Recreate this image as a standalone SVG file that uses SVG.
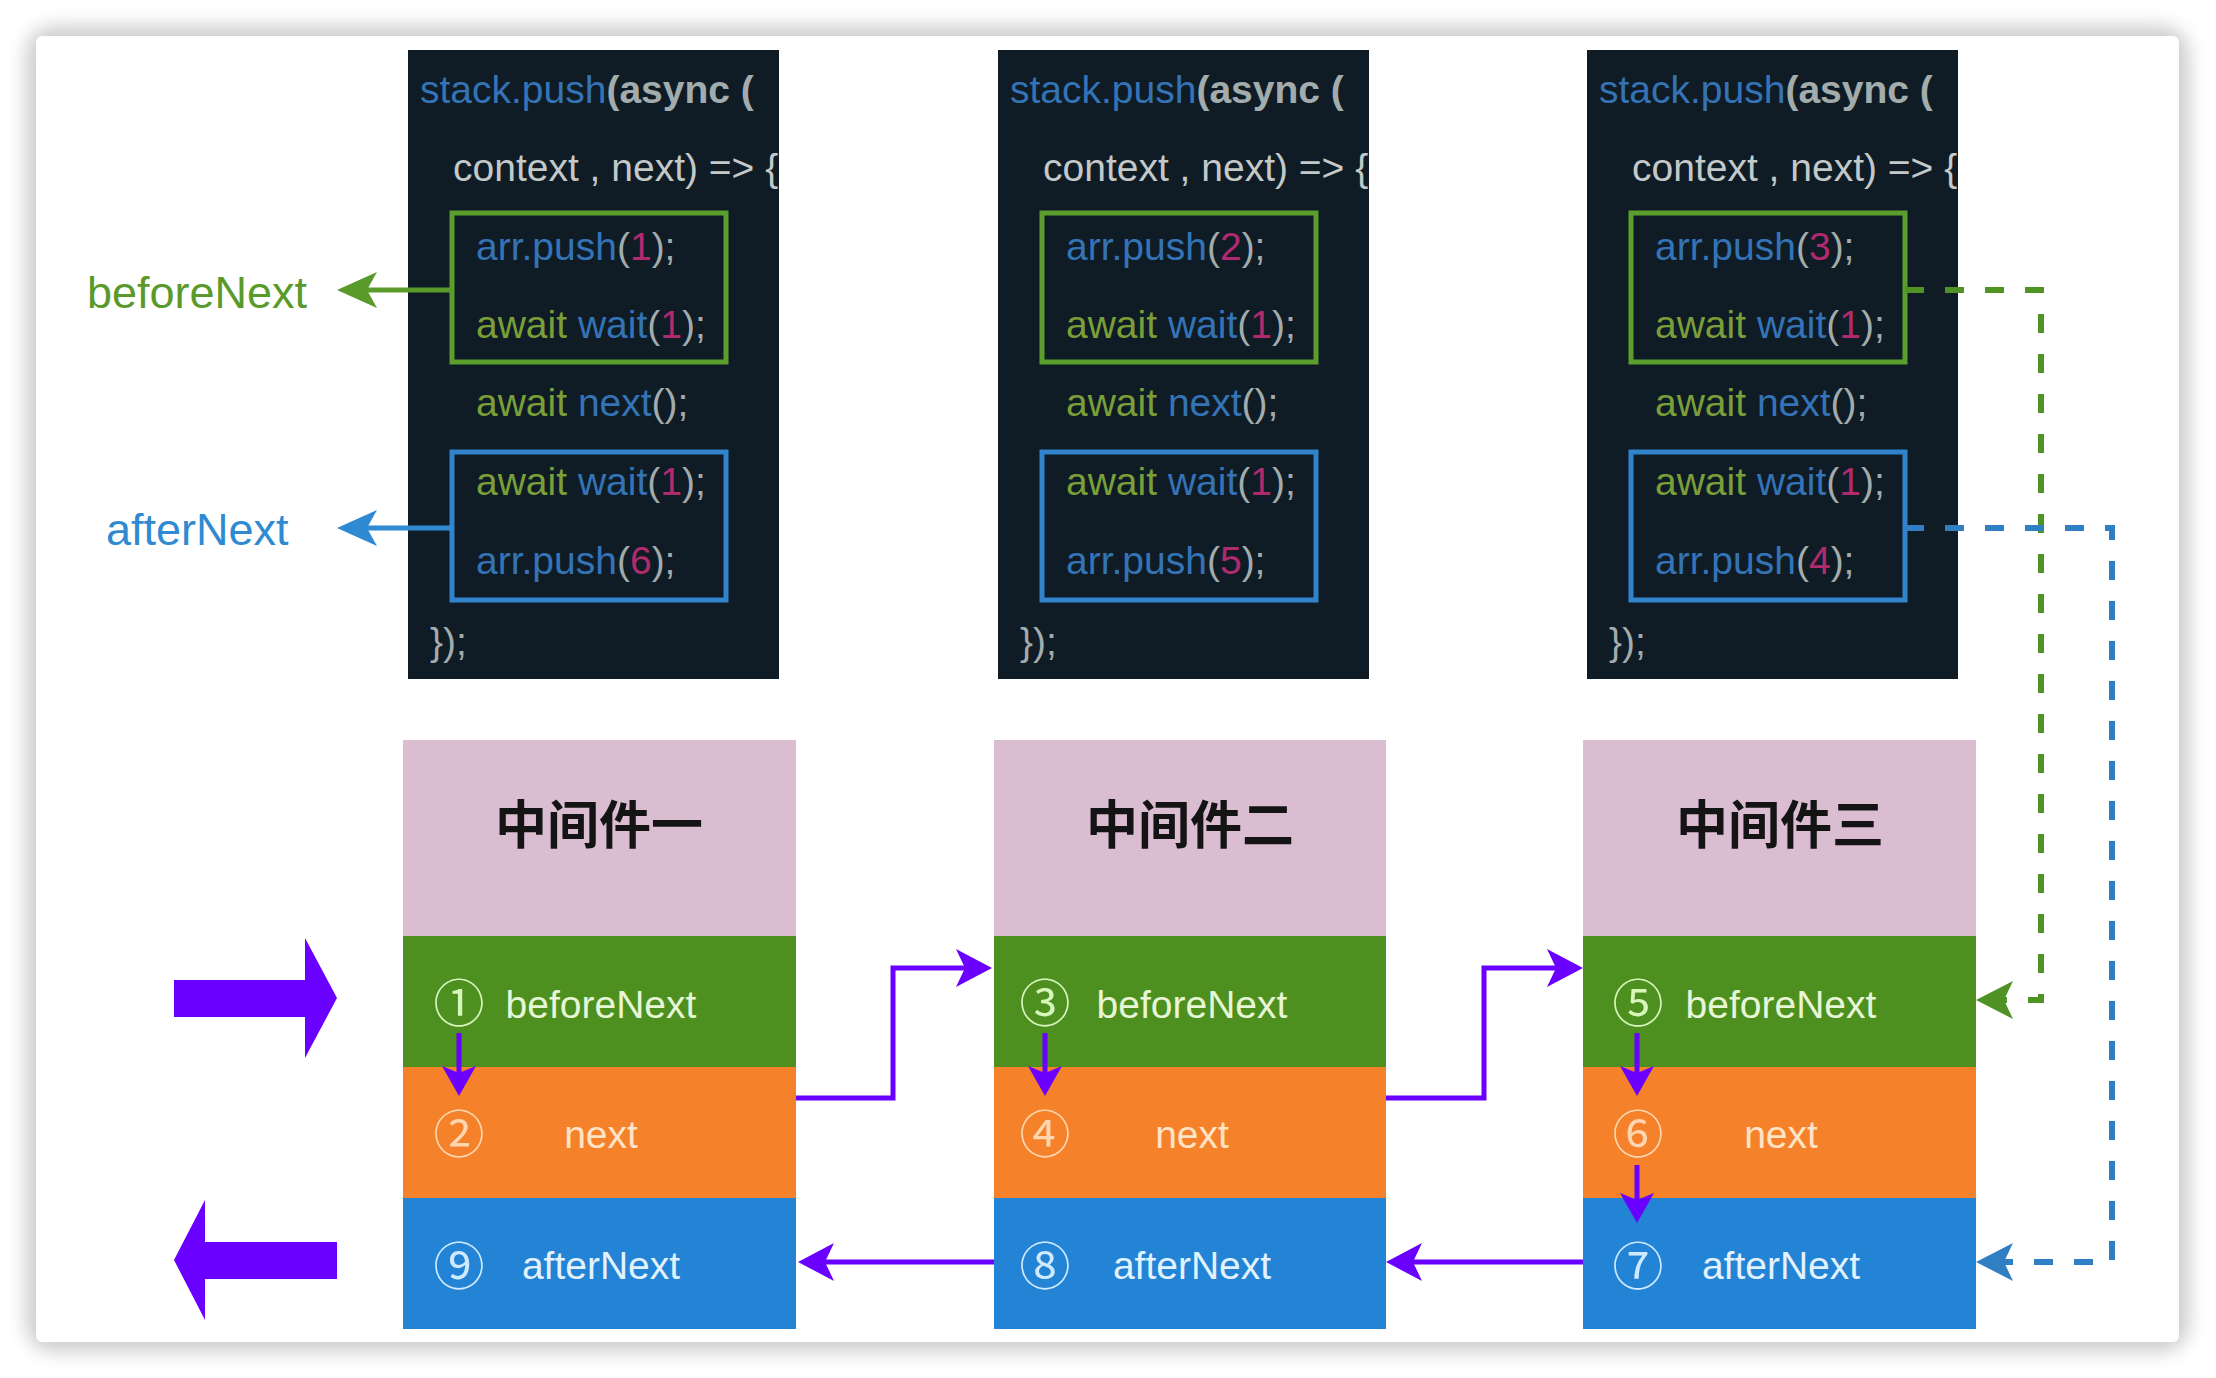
<svg xmlns="http://www.w3.org/2000/svg" width="2216" height="1378" viewBox="0 0 2216 1378">
<defs>
<style>
.code{font-family:"Liberation Sans",Arial,Helvetica,sans-serif;font-size:39px}
.kb{fill:#3473b6}
.kg{fill:#a3acad}
.kl{fill:#c3c9c9}
.ko{fill:#7a9f38}
.kn{fill:#b02a6e}
.bold{font-weight:bold}
.cbox{fill:#0f1c25}
.gbox{fill:none;stroke:#5b9e2e;stroke-width:5}
.bbox{fill:none;stroke:#3183cc;stroke-width:5}
.pink{fill:#dbbdd2}
.grn{fill:#4e901f}
.org{fill:#f5822a}
.blu{fill:#2383d4}
.title{font-family:"Noto Sans CJK SC","Noto Sans CJK TC",sans-serif;font-weight:bold;font-size:52px;fill:#141414;text-anchor:middle}
.row{font-family:"Liberation Sans",Arial,Helvetica,sans-serif;font-size:39px;text-anchor:middle}
.circ{font-family:"Noto Sans CJK SC","DejaVu Sans",sans-serif;font-size:51px;text-anchor:middle}
.tg{fill:#e6f6d6}
.to{fill:#ffe4c8}
.tb{fill:#e2f2ff}
.cg{fill:#d6f6bc}
.co{fill:#ffd6b0}
.cb{fill:#cfeaff}
.side{font-family:"Liberation Sans",Arial,Helvetica,sans-serif;font-size:45px}
.pl{fill:none;stroke:#6a00ff;stroke-width:5}
.gl{fill:none;stroke:#5a9a2a;stroke-width:5}
.bl{fill:none;stroke:#2f8ad2;stroke-width:5}
.gd{fill:none;stroke:#4f9324;stroke-width:6;stroke-dasharray:19 21}
.bd{fill:none;stroke:#2f7fc2;stroke-width:6;stroke-dasharray:19 21}
</style>
<filter id="sh" x="-5%" y="-5%" width="110%" height="110%">
<feGaussianBlur stdDeviation="9"/>
</filter>
<marker id="ap" markerUnits="userSpaceOnUse" viewBox="0 0 40 40" markerWidth="40" markerHeight="40" refX="24" refY="19" orient="auto">
<path d="M0,0 L36,19 L0,38 L9,19 Z" fill="#6a00ff"/>
</marker>
<marker id="apd" markerUnits="userSpaceOnUse" viewBox="0 0 34 36" markerWidth="34" markerHeight="36" refX="20" refY="17" orient="auto">
<path d="M0,0 L30,17 L0,34 L7,17 Z" fill="#6a00ff"/>
</marker>
<marker id="ag" markerUnits="userSpaceOnUse" viewBox="0 0 42 40" markerWidth="42" markerHeight="40" refX="28" refY="18" orient="auto">
<path d="M0,0 L40,18 L0,36 L10,18 Z" fill="#5a9a2a"/>
</marker>
<marker id="ab" markerUnits="userSpaceOnUse" viewBox="0 0 42 40" markerWidth="42" markerHeight="40" refX="28" refY="18" orient="auto">
<path d="M0,0 L40,18 L0,36 L10,18 Z" fill="#2f8ad2"/>
</marker>
<marker id="agd" markerUnits="userSpaceOnUse" viewBox="0 0 40 40" markerWidth="40" markerHeight="40" refX="25" refY="19" orient="auto">
<path d="M0,0 L37,19 L0,38 L9,19 Z" fill="#4f9324"/>
</marker>
<marker id="abd" markerUnits="userSpaceOnUse" viewBox="0 0 40 40" markerWidth="40" markerHeight="40" refX="25" refY="19" orient="auto">
<path d="M0,0 L37,19 L0,38 L9,19 Z" fill="#2f7fc2"/>
</marker>
<clipPath id="clip1"><rect x="408" y="50" width="371" height="629"/></clipPath>
<clipPath id="clip2"><rect x="998" y="50" width="371" height="629"/></clipPath>
<clipPath id="clip3"><rect x="1587" y="50" width="371" height="629"/></clipPath>
</defs>

<rect x="0" y="0" width="2216" height="1378" fill="#ffffff"/>
<rect x="26" y="26" width="2163" height="1326" rx="28" fill="#cdcdcd" filter="url(#sh)"/>
<rect x="36" y="36" width="2143" height="1306" rx="6" fill="#ffffff"/>

<g id="code1">
<rect class="cbox" x="408" y="50" width="371" height="629"/>
<g class="code" clip-path="url(#clip1)">
<text x="420" y="103"><tspan class="kb">stack.push</tspan><tspan class="kg bold">(async (</tspan></text>
<text x="453" y="181" class="kl">context , next) =&gt; {</text>
<text x="476" y="260"><tspan class="kb">arr.push</tspan><tspan class="kg">(</tspan><tspan class="kn">1</tspan><tspan class="kg">);</tspan></text>
<text x="476" y="338"><tspan class="ko">await </tspan><tspan class="kb">wait</tspan><tspan class="kg">(</tspan><tspan class="kn">1</tspan><tspan class="kg">);</tspan></text>
<text x="476" y="416"><tspan class="ko">await </tspan><tspan class="kb">next</tspan><tspan class="kg">();</tspan></text>
<text x="476" y="495"><tspan class="ko">await </tspan><tspan class="kb">wait</tspan><tspan class="kg">(</tspan><tspan class="kn">1</tspan><tspan class="kg">);</tspan></text>
<text x="476" y="574"><tspan class="kb">arr.push</tspan><tspan class="kg">(</tspan><tspan class="kn">6</tspan><tspan class="kg">);</tspan></text>
<text x="430" y="655" class="kg">});</text>
</g>
<rect class="gbox" x="452" y="213" width="274" height="149"/>
<rect class="bbox" x="452" y="452" width="274" height="148"/>
</g>

<g id="code2">
<rect class="cbox" x="998" y="50" width="371" height="629"/>
<g class="code" clip-path="url(#clip2)">
<text x="1010" y="103"><tspan class="kb">stack.push</tspan><tspan class="kg bold">(async (</tspan></text>
<text x="1043" y="181" class="kl">context , next) =&gt; {</text>
<text x="1066" y="260"><tspan class="kb">arr.push</tspan><tspan class="kg">(</tspan><tspan class="kn">2</tspan><tspan class="kg">);</tspan></text>
<text x="1066" y="338"><tspan class="ko">await </tspan><tspan class="kb">wait</tspan><tspan class="kg">(</tspan><tspan class="kn">1</tspan><tspan class="kg">);</tspan></text>
<text x="1066" y="416"><tspan class="ko">await </tspan><tspan class="kb">next</tspan><tspan class="kg">();</tspan></text>
<text x="1066" y="495"><tspan class="ko">await </tspan><tspan class="kb">wait</tspan><tspan class="kg">(</tspan><tspan class="kn">1</tspan><tspan class="kg">);</tspan></text>
<text x="1066" y="574"><tspan class="kb">arr.push</tspan><tspan class="kg">(</tspan><tspan class="kn">5</tspan><tspan class="kg">);</tspan></text>
<text x="1020" y="655" class="kg">});</text>
</g>
<rect class="gbox" x="1042" y="213" width="274" height="149"/>
<rect class="bbox" x="1042" y="452" width="274" height="148"/>
</g>

<g id="code3">
<rect class="cbox" x="1587" y="50" width="371" height="629"/>
<g class="code" clip-path="url(#clip3)">
<text x="1599" y="103"><tspan class="kb">stack.push</tspan><tspan class="kg bold">(async (</tspan></text>
<text x="1632" y="181" class="kl">context , next) =&gt; {</text>
<text x="1655" y="260"><tspan class="kb">arr.push</tspan><tspan class="kg">(</tspan><tspan class="kn">3</tspan><tspan class="kg">);</tspan></text>
<text x="1655" y="338"><tspan class="ko">await </tspan><tspan class="kb">wait</tspan><tspan class="kg">(</tspan><tspan class="kn">1</tspan><tspan class="kg">);</tspan></text>
<text x="1655" y="416"><tspan class="ko">await </tspan><tspan class="kb">next</tspan><tspan class="kg">();</tspan></text>
<text x="1655" y="495"><tspan class="ko">await </tspan><tspan class="kb">wait</tspan><tspan class="kg">(</tspan><tspan class="kn">1</tspan><tspan class="kg">);</tspan></text>
<text x="1655" y="574"><tspan class="kb">arr.push</tspan><tspan class="kg">(</tspan><tspan class="kn">4</tspan><tspan class="kg">);</tspan></text>
<text x="1609" y="655" class="kg">});</text>
</g>
<rect class="gbox" x="1631" y="213" width="274" height="149"/>
<rect class="bbox" x="1631" y="452" width="274" height="148"/>
</g>

<g id="label-beforeNext">
<text class="side" x="87" y="308" fill="#5a9a2a">beforeNext</text>
</g>
<g id="label-afterNext">
<text class="side" x="106" y="545" fill="#2f8ad2">afterNext</text>
</g>

<g id="mw1">
<rect class="pink" x="403" y="740" width="393" height="196"/>
<rect class="grn" x="403" y="936" width="393" height="131"/>
<rect class="org" x="403" y="1067" width="393" height="131"/>
<rect class="blu" x="403" y="1198" width="393" height="131"/>
<text class="title" x="599" y="844">中间件一</text>
<text class="circ cg" x="459" y="1022">①</text>
<text class="row tg" x="601" y="1018">beforeNext</text>
<text class="circ co" x="459" y="1153">②</text>
<text class="row to" x="601" y="1148">next</text>
<text class="circ cb" x="459" y="1285">⑨</text>
<text class="row tb" x="601" y="1279">afterNext</text>
</g>

<g id="mw2">
<rect class="pink" x="994" y="740" width="392" height="196"/>
<rect class="grn" x="994" y="936" width="392" height="131"/>
<rect class="org" x="994" y="1067" width="392" height="131"/>
<rect class="blu" x="994" y="1198" width="392" height="131"/>
<text class="title" x="1190" y="844">中间件二</text>
<text class="circ cg" x="1045" y="1022">③</text>
<text class="row tg" x="1192" y="1018">beforeNext</text>
<text class="circ co" x="1045" y="1153">④</text>
<text class="row to" x="1192" y="1148">next</text>
<text class="circ cb" x="1045" y="1285">⑧</text>
<text class="row tb" x="1192" y="1279">afterNext</text>
</g>

<g id="mw3">
<rect class="pink" x="1583" y="740" width="393" height="196"/>
<rect class="grn" x="1583" y="936" width="393" height="131"/>
<rect class="org" x="1583" y="1067" width="393" height="131"/>
<rect class="blu" x="1583" y="1198" width="393" height="131"/>
<text class="title" x="1780" y="844">中间件三</text>
<text class="circ cg" x="1638" y="1022">⑤</text>
<text class="row tg" x="1781" y="1018">beforeNext</text>
<text class="circ co" x="1638" y="1153">⑥</text>
<text class="row to" x="1781" y="1148">next</text>
<text class="circ cb" x="1638" y="1285">⑦</text>
<text class="row tb" x="1781" y="1279">afterNext</text>
</g>

<g id="entry-arrow">
<polygon points="174,980 305,980 305,938 337,998 305,1058 305,1017 174,1017" fill="#6a00ff"/>
</g>
<g id="exit-arrow">
<polygon points="174,1260 205,1200 205,1242 337,1242 337,1279 205,1279 205,1320" fill="#6a00ff"/>
</g>

<g id="connectors">
<path class="gl" d="M452,290 H349" marker-end="url(#ag)"/>
<path class="bl" d="M452,528 H349" marker-end="url(#ab)"/>
<path class="gd" d="M1905,290 H2041 V1000 H1988" marker-end="url(#agd)"/>
<path class="bd" d="M1905,528 H2112 V1262 H1988" marker-end="url(#abd)"/>
<path class="pl" d="M796,1098 H893 V968 H980" marker-end="url(#ap)"/>
<path class="pl" d="M1386,1098 H1484 V968 H1571" marker-end="url(#ap)"/>
<path class="pl" d="M994,1262 H810" marker-end="url(#ap)"/>
<path class="pl" d="M1583,1262 H1398" marker-end="url(#ap)"/>
<path class="pl" d="M459,1033 V1086" marker-end="url(#apd)"/>
<path class="pl" d="M1045,1033 V1086" marker-end="url(#apd)"/>
<path class="pl" d="M1637,1033 V1086" marker-end="url(#apd)"/>
<path class="pl" d="M1637,1165 V1213" marker-end="url(#apd)"/>
</g>
</svg>
